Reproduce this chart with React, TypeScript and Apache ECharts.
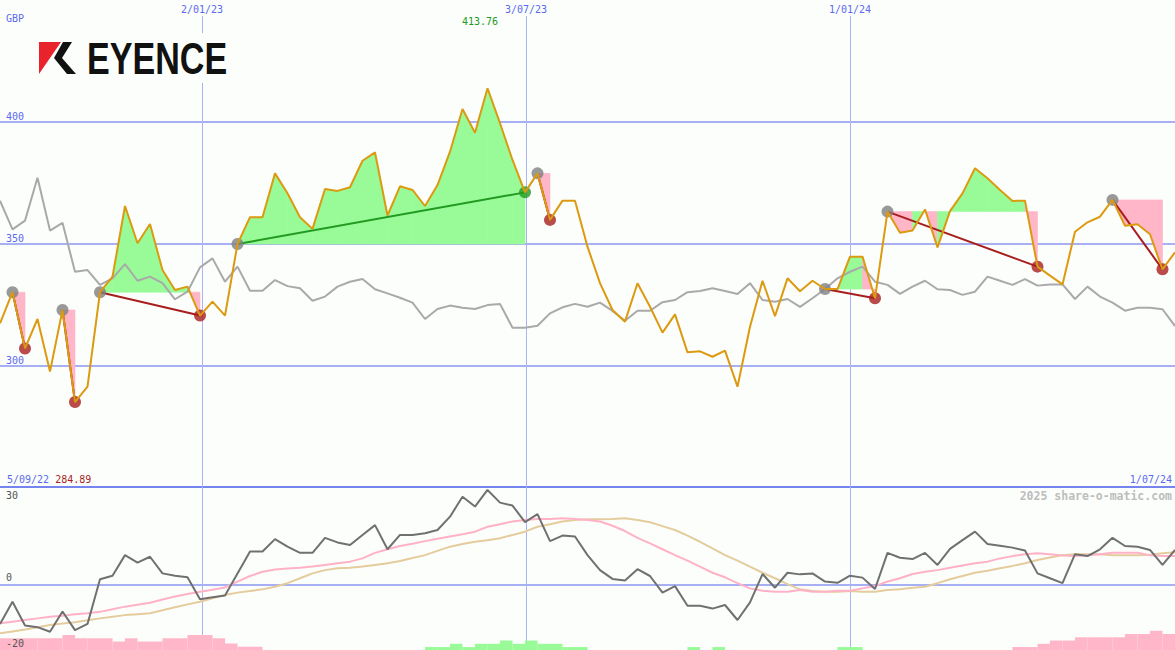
import React, { useEffect, useRef } from 'react';
import * as echarts from 'echarts';

// ---------- data (weekly points, index 0..94) ----------
const priceGBP = [
  317.2, 330.0, 306.9, 319.0, 297.4, 322.7, 284.89, 291.2, 330.0, 336.4,
  365.4, 350.1, 358.0, 339.1, 330.9, 332.3, 320.4, 326.1, 320.4, 349.8,
  360.8, 360.8, 378.8, 370.6, 360.8, 356.0, 372.4, 371.6, 373.1, 384.0,
  387.4, 361.5, 373.5, 372.0, 365.4, 374.0, 387.7, 405.2, 395.5, 413.76,
  399.4, 384.3, 371.0, 378.8, 359.7, 367.6, 367.6, 348.7, 333.7, 322.7,
  317.9, 333.7, 324.0, 313.4, 320.9, 305.3, 305.7, 303.5, 306.0, 291.2,
  315.8, 334.7, 320.2, 335.7, 330.4, 334.7, 331.3, 331.3, 344.6, 344.6,
  327.5, 363.1, 354.4, 355.3, 364.0, 348.4, 363.3, 370.6, 380.9, 376.8,
  372.0, 367.5, 367.6, 340.5, 336.8, 333.2, 354.8, 358.7, 361.0, 367.9,
  357.3, 357.9, 353.8, 339.4, 346.4,
];

const relativeLine = [
  367.6, 355.8, 359.4, 377.0, 355.3, 358.5, 338.4, 339.1, 333.0, 335.7,
  341.5, 334.7, 336.4, 333.7, 327.1, 330.2, 340.2, 343.9, 334.3, 340.5,
  330.6, 330.6, 335.0, 332.5, 331.6, 326.5, 328.2, 332.3, 334.3, 335.4,
  331.2, 329.5, 327.7, 325.7, 319.0, 323.1, 324.5, 323.6, 323.1, 324.7,
  325.2, 315.4, 315.4, 316.2, 321.3, 323.8, 325.2, 324.0, 325.7, 322.3,
  318.3, 322.4, 322.4, 325.9, 326.8, 330.0, 330.5, 331.6, 330.5, 329.3,
  333.7, 326.8, 326.1, 327.2, 324.0, 327.5, 331.3, 335.7, 338.4, 340.5,
  334.3, 333.0, 329.3, 332.3, 334.7, 331.2, 330.9, 328.9, 330.2, 336.4,
  334.7, 333.0, 335.4, 332.7, 333.2, 333.2, 327.2, 332.3, 328.2, 325.7,
  322.4, 323.6, 323.6, 323.0, 316.1,
];

const momentum = [
  -12.0, -5.2, -12.5, -13.0, -14.4, -8.2, -13.9, -12.0, 1.7, 2.8,
  9.1, 6.8, 8.6, 3.5, 2.8, 2.3, -4.4, -3.8, -3.3, 3.5,
  10.2, 10.2, 14.0, 11.7, 9.8, 9.8, 14.4, 13.0, 12.2, 15.3,
  18.3, 10.9, 15.3, 15.3, 15.8, 16.8, 20.9, 27.0, 24.0, 29.1,
  25.2, 24.3, 19.2, 21.7, 13.4, 15.1, 14.8, 9.1, 4.5, 1.8,
  1.3, 4.8, 2.7, -2.4, -0.4, -6.4, -6.4, -7.3, -6.2, -10.8,
  -5.4, 3.3, -0.9, 3.7, 3.2, 3.5, 1.0, 0.6, 2.8, 2.2,
  -1.3, 9.8, 8.3, 7.9, 9.8, 6.1, 11.0, 13.7, 16.3, 12.5,
  12.0, 11.4, 10.5, 3.5, 2.0, 0.5, 9.4, 8.8, 10.9, 14.4,
  11.9, 11.7, 10.7, 6.1, 10.7,
];

const momentumFast = [
  -11.8, -11.3, -10.8, -10.3, -9.8, -9.5, -9.0, -8.7, -8.3, -7.5,
  -6.7, -6.1, -5.5, -4.5, -3.6, -2.8, -2.1, -1.5, -0.8, 1.0,
  2.7, 4.0, 4.7, 5.0, 5.2, 5.6, 6.1, 6.6, 7.1, 8.1,
  9.8, 10.9, 11.9, 12.6, 13.4, 14.1, 14.8, 15.5, 16.3, 17.8,
  18.6, 19.4, 19.9, 20.2, 20.2, 20.4, 20.2, 19.9, 19.4, 18.1,
  16.5, 14.4, 12.7, 10.9, 9.1, 7.4, 5.6, 3.7, 2.3, 0.5,
  -1.1, -1.8, -2.1, -2.1, -1.6, -2.1, -2.1, -1.8, -1.8, -1.1,
  -0.4, 1.0, 2.0, 3.3, 4.0, 4.5, 5.2, 5.9, 6.6, 7.1,
  8.1, 8.8, 9.4, 9.7, 9.4, 9.0, 8.8, 9.1, 9.4, 9.8,
  9.8, 9.8, 9.1, 8.8, 8.8,
];

const momentumSlow = [
  -14.9, -14.3, -13.7, -13.0, -12.3, -11.9, -11.5, -10.9, -10.3, -9.8,
  -9.3, -9.0, -8.7, -7.8, -6.9, -6.0, -5.2, -4.1, -3.1, -2.4,
  -1.9, -1.4, -0.6, 0.5, 2.0, 3.5, 4.5, 5.1, 5.2, 5.6,
  6.1, 6.6, 7.3, 8.2, 9.1, 10.4, 11.7, 12.5, 13.2, 13.7,
  14.3, 15.3, 16.3, 17.8, 18.6, 19.4, 19.9, 20.1, 20.1, 20.2,
  20.4, 19.9, 19.2, 18.0, 16.8, 15.1, 13.2, 11.2, 9.1, 7.4,
  5.6, 3.7, 2.0, 0.2, -1.4, -1.9, -2.1, -2.1, -1.9, -2.1,
  -2.1, -1.6, -1.4, -0.9, -0.6, 0.5, 1.7, 2.7, 3.7, 4.3,
  5.1, 5.8, 6.6, 7.6, 8.4, 9.1, 9.4, 9.4, 9.4, 9.1,
  9.1, 9.1, 9.2, 9.7, 10.0,
];

const histogram = [
  -3.6, -3.6, -3.6, -3.6, -3.6, -4.6, -3.6, -3.6, -3.6, -2.6,
  -3.6, -2.6, -2.6, -3.6, -3.6, -4.6, -4.6, -3.6, -2.0, -1.0,
  -1.0, 0, 0, 0, 0, 0, 0, 0, 0, 0,
  0, 0, 0, 0, 0.9, 0.9, 1.9, 0.9, 1.9, 1.9,
  2.9, 1.9, 2.9, 1.9, 1.9, 0.9, 0.9, 0, 0, 0,
  0, 0, 0, 0, 0, 0.9, 0, 0.9, 0, 0,
  0, 0, 0, 0, 0, 0, 0, 0.9, 0.9, 0,
  0, 0, 0, 0, 0, 0, 0, 0, 0, 0,
  0, -0.9, -0.9, -1.9, -2.9, -2.9, -3.9, -3.9, -3.9, -3.9,
  -4.9, -4.9, -5.9, -4.9, -4.9,
];

const swingStart = [1, 5, 8, 19, 43, 66, 71, 89];
const swingEnd = [2, 6, 16, 42, 44, 70, 83, 93];

const dateTickLabels = ['2/01/23', '3/07/23', '1/01/24'];
const dateTickPos = [16.16, 42.08, 68];
const priceTicks = [300, 350, 400];
const lowerTicksBottom = [-20, 0];
const lowerTicksTop = [30];
const startDate = '5/09/22';
const endDate = '1/07/24';
const currency = 'GBP';
const watermark = '2025 share-o-matic.com';

// ---------- styles ----------
const BG = '#fcfefc';
const BLUE_TXT = '#5b6af0';
const GRID_LINE = '#a6b0f2';
const VLINE = '#aab4f4';
const MONO = '"DejaVu Sans Mono", monospace';
const GREEN_FILL = '#98fb98';
const PINK_FILL = '#ffb6c8';
const ORANGE = '#dc9a10';
const UP = '#229a22';
const DOWN = '#a81e1e';
const DATE_LINE_TOP = 443.4;

export default function App() {
  const ref = useRef<HTMLDivElement>(null);

  useEffect(() => {
    if (!ref.current) return;
    const chart = echarts.init(ref.current, null, { renderer: 'svg' });

    const n = priceGBP.length;
    const maxP = Math.max(...priceGBP);
    const minP = Math.min(...priceGBP);

    const swings = swingStart.map((s, i) => [s, swingEnd[i]]);

    const option: any = {
      animation: false,
      backgroundColor: BG,
      grid: [
        { left: 0, right: 0, top: 0, height: 487 },
        { left: 0, right: 0, top: 487, height: 163 },
      ],
      xAxis: [
        {
          type: 'value', gridIndex: 0, min: 0, max: n - 1, position: 'top',
          axisLine: { show: false }, axisTick: { show: false }, splitLine: { show: false },
          axisLabel: {
            inside: true, margin: 4, customValues: dateTickPos,
            formatter: (v: number) => {
              const i = dateTickPos.indexOf(v);
              return i >= 0 ? dateTickLabels[i] : '';
            },
            color: BLUE_TXT, fontSize: 10, fontFamily: MONO,
          },
        },
        { type: 'value', gridIndex: 1, min: 0, max: n - 1, show: false },
      ],
      yAxis: [
        {
          type: 'value', gridIndex: 0, position: 'left', min: 250, max: 450, interval: 50,
          axisLine: { show: false }, axisTick: { show: false },
          splitLine: {
            show: true,
            lineStyle: { color: ['#7584ee', GRID_LINE, GRID_LINE, GRID_LINE, 'rgba(0,0,0,0)'], width: 2 },
          },
          axisLabel: {
            inside: true, margin: 6, customValues: priceTicks, verticalAlign: 'bottom',
            color: BLUE_TXT, fontSize: 10, fontFamily: MONO,
          },
        },
        {
          type: 'value', gridIndex: 1, position: 'left', offset: 0, min: -20, max: 30, z: 20,
          axisLine: { show: false }, axisTick: { show: false }, splitLine: { show: false },
          axisLabel: {
            inside: true, margin: 6, customValues: lowerTicksBottom, verticalAlign: 'bottom',
            padding: [0, 0, 2, 0],
            showMinLabel: true, color: '#555555', fontSize: 10, fontFamily: MONO,
          },
        },
        {
          type: 'value', gridIndex: 1, position: 'left', offset: 0, min: -20, max: 30, z: 20,
          axisLine: { show: false }, axisTick: { show: false }, splitLine: { show: false },
          axisLabel: {
            inside: true, margin: 6, customValues: lowerTicksTop, verticalAlign: 'top',
            padding: [3, 0, 0, 0], color: '#555555', fontSize: 10, fontFamily: MONO,
          },
        },
        { type: 'value', gridIndex: 1, position: 'left', offset: 0, min: 0, max: 50, show: false },
      ],
      series: [
        // vertical date lines (top panel)
        {
          type: 'lines', coordinateSystem: 'cartesian2d', xAxisIndex: 0, yAxisIndex: 0, z: 0,
          silent: true,
          lineStyle: { color: VLINE, width: 1, opacity: 1 },
          data: dateTickPos.map((p) => ({ coords: [[p, DATE_LINE_TOP], [p, 250]] })),
        },
        // swing fills
        {
          type: 'custom', xAxisIndex: 0, yAxisIndex: 0, z: 1, silent: true,
          data: swings,
          renderItem: (params: any, api: any) => {
            const from = api.value(0);
            const to = api.value(1);
            const base = priceGBP[from];
            const children: any[] = [];
            for (let k = from; k < to; k++) {
              const up = priceGBP[k + 1] >= base;
              const col = up ? GREEN_FILL : PINK_FILL;
              children.push({
                type: 'polygon',
                shape: {
                  points: [
                    api.coord([k, base]),
                    api.coord([k, priceGBP[k]]),
                    api.coord([k + 1, priceGBP[k + 1]]),
                    api.coord([k + 1, base]),
                  ],
                },
                style: { fill: col, stroke: col, lineWidth: 0.6 },
              });
            }
            return { type: 'group', children };
          },
        },
        // relative (gray) line
        {
          type: 'line', xAxisIndex: 0, yAxisIndex: 0, z: 2, showSymbol: false, silent: true,
          lineStyle: { color: '#a9a9a9', width: 2 },
          data: relativeLine.map((v, i) => [i, v]),
        },
        // swing connecting lines
        {
          type: 'lines', coordinateSystem: 'cartesian2d', xAxisIndex: 0, yAxisIndex: 0, z: 3,
          silent: true,
          lineStyle: { width: 2, opacity: 1 },
          data: swings.map(([a, b]) => ({
            coords: [[a, priceGBP[a]], [b, priceGBP[b]]],
            lineStyle: { color: priceGBP[b] > priceGBP[a] ? UP : DOWN, width: 2 },
          })),
        },
        // swing start markers
        {
          type: 'scatter', xAxisIndex: 0, yAxisIndex: 0, z: 4, silent: true,
          symbol: 'circle', symbolSize: 12,
          itemStyle: { color: '#808080' },
          data: swingStart.map((s) => [s, priceGBP[s]]),
        },
        // swing end markers
        {
          type: 'scatter', xAxisIndex: 0, yAxisIndex: 0, z: 4, silent: true,
          symbol: 'circle', symbolSize: 12,
          itemStyle: {
            color: (p: any) => (priceGBP[swingEnd[p.dataIndex]] > priceGBP[swingStart[p.dataIndex]] ? UP : DOWN),
          },
          data: swingEnd.map((s) => [s, priceGBP[s]]),
        },
        // price line
        {
          type: 'line', xAxisIndex: 0, yAxisIndex: 0, z: 5, showSymbol: false, silent: true,
          lineStyle: { color: ORANGE, width: 2 },
          data: priceGBP.map((v, i) => [i, v]),
        },
        // lower panel: vertical lines + zero line
        {
          type: 'lines', coordinateSystem: 'cartesian2d', xAxisIndex: 1, yAxisIndex: 1, z: 0,
          silent: true,
          lineStyle: { color: VLINE, width: 1, opacity: 1 },
          data: dateTickPos.map((p) => ({ coords: [[p, -20], [p, 30]] })),
        },
        {
          type: 'lines', coordinateSystem: 'cartesian2d', xAxisIndex: 1, yAxisIndex: 1, z: 0,
          silent: true,
          lineStyle: { color: GRID_LINE, width: 2, opacity: 1 },
          data: [{ coords: [[0, 0], [n - 1, 0]] }],
        },
        // histogram bars
        {
          type: 'bar', xAxisIndex: 1, yAxisIndex: 3, z: 1, silent: true,
          barWidth: 12.6,
          data: histogram.map((v, k) => ({
            value: [k + 0.5, Math.abs(v)],
            itemStyle: { color: v < 0 ? PINK_FILL : GREEN_FILL },
          })),
        },
        // oscillator lines
        {
          type: 'line', xAxisIndex: 1, yAxisIndex: 1, z: 2, showSymbol: false, silent: true,
          lineStyle: { color: '#e4cc9c', width: 2 },
          data: momentumSlow.map((v, i) => [i, v]),
        },
        {
          type: 'line', xAxisIndex: 1, yAxisIndex: 1, z: 3, showSymbol: false, silent: true,
          lineStyle: { color: '#ffb2c6', width: 2 },
          data: momentumFast.map((v, i) => [i, v]),
        },
        {
          type: 'line', xAxisIndex: 1, yAxisIndex: 1, z: 4, showSymbol: false, silent: true,
          lineStyle: { color: '#707070', width: 2 },
          data: momentum.map((v, i) => [i, v]),
        },
      ],
      graphic: [
        { type: 'rect', z: 100, shape: { x: 30, y: 33, width: 215, height: 50 }, style: { fill: BG } },
        {
          type: 'polygon', z: 101,
          shape: { points: [[39, 42], [61, 42], [39, 74]] },
          style: { fill: '#e8232b' },
        },
        {
          type: 'polygon', z: 101,
          shape: { points: [[63, 42], [72, 42], [62, 58], [76, 74], [67, 74], [54, 58]] },
          style: { fill: '#111111' },
        },
        {
          type: 'text', z: 101, x: 87, y: 58, scaleX: 0.775,
          style: {
            text: 'EYENCE', fill: '#111111',
            font: 'bold 44px "Liberation Sans", Arial, sans-serif',
            textAlign: 'left', textVerticalAlign: 'middle',
          },
        },
        {
          type: 'text', z: 101, x: 6, y: 18,
          style: { text: currency, fill: BLUE_TXT, font: `10px ${MONO}`, textAlign: 'left', textVerticalAlign: 'middle' },
        },
        {
          type: 'text', z: 101, x: 480, y: 21,
          style: { text: maxP.toFixed(2), fill: UP, font: `10px ${MONO}`, textAlign: 'center', textVerticalAlign: 'middle' },
        },
        {
          type: 'text', z: 101, x: 7, y: 479,
          style: {
            text: `{d|${startDate}} {m|${minP.toFixed(2)}}`,
            font: `10px ${MONO}`, textAlign: 'left', textVerticalAlign: 'middle',
            rich: {
              d: { fill: BLUE_TXT, font: `10px ${MONO}` },
              m: { fill: DOWN, font: `10px ${MONO}` },
            },
          },
        },
        {
          type: 'text', z: 101, x: 1172, y: 479,
          style: { text: endDate, fill: BLUE_TXT, font: `10px ${MONO}`, textAlign: 'right', textVerticalAlign: 'middle' },
        },
        {
          type: 'text', z: 101, x: 1172, y: 496,
          style: { text: watermark, fill: '#bdbdbd', font: `bold 11.5px ${MONO}`, textAlign: 'right', textVerticalAlign: 'middle' },
        },
      ],
    };

    chart.setOption(option);
    return () => chart.dispose();
  }, []);

  return (
    <div
      ref={ref}
      style={{ position: 'absolute', left: 0, top: 0, width: 1175, height: 650 }}
    />
  );
}
